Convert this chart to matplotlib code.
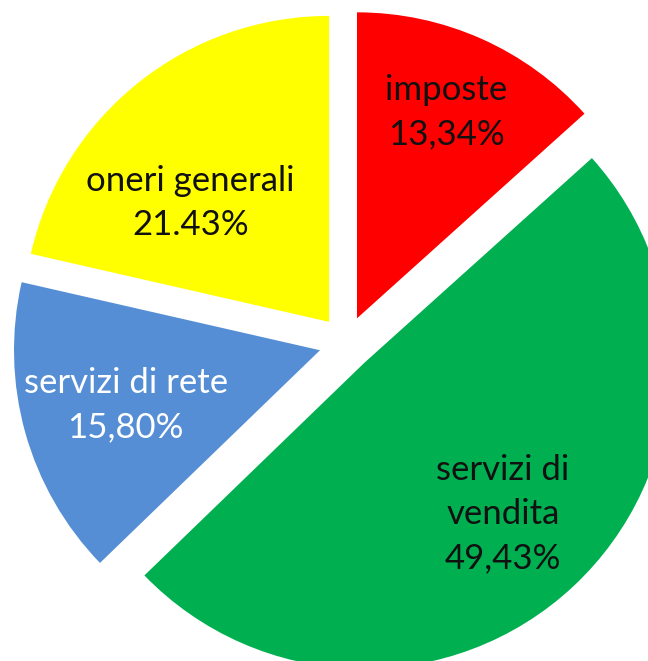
import numpy as np
import matplotlib
matplotlib.use("Agg")
import matplotlib.pyplot as plt

# ── Data ──────────────────────────────────────────────────────────────────────
labels  = ["imposte", "servizi di\nvendita", "servizi di rete", "oneri generali"]
values  = [13.34, 49.43, 15.80, 21.43]
pct_txt = ["13,34%", "49,43%", "15,80%", "21.43%"]
colors  = ["#FF0000", "#00B050", "#558ED5", "#FFFF00"]
txt_col = ["#111111", "#111111", "#FFFFFF", "#111111"]

# label placement (fraction of radius, angle tweak in degrees)
lab_dist  = [0.733, 0.671, 0.66, 0.597]
lab_dang  = [0.6, -0.6, 0.2, 10.9]

plt.rcParams["font.family"] = ["Lato", "DejaVu Sans"]

W, H = 648, 661
fig = plt.figure(figsize=(W / 100, H / 100), dpi=100)
ax = fig.add_axes([0, 0, 1, 1])

R = 306
wedges, _ = ax.pie(values, colors=colors, startangle=90, counterclock=False,
                   radius=R, center=(346, H - 343), explode=[27] * 4,
                   wedgeprops=dict(linewidth=0), frame=True)
ax.set_xlim(0, W)
ax.set_ylim(0, H)
ax.set_aspect("equal")
ax.axis("off")

for w, lab, pct, tc, d, da in zip(wedges, labels, pct_txt, txt_col, lab_dist, lab_dang):
    th = np.deg2rad((w.theta1 + w.theta2) / 2 + da)
    cx, cy = w.center
    ax.text(cx + d * R * np.cos(th), cy + d * R * np.sin(th), f"{lab}\n{pct}",
            ha="center", va="center", fontsize=25, color=tc, linespacing=1.47)

fig.savefig("out.png", dpi=100)
